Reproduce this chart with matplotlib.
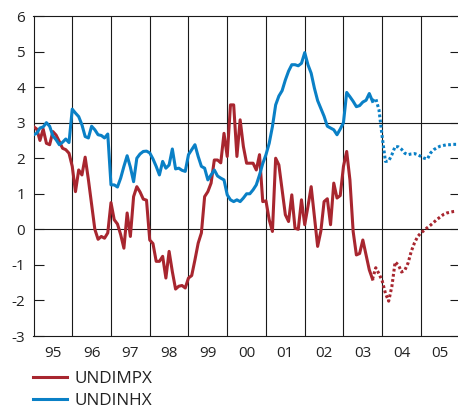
import matplotlib
matplotlib.use("Agg")
import matplotlib.pyplot as plt
from matplotlib.lines import Line2D
import numpy as np

plt.rcParams['font.family'] = ['Open Sans', 'DejaVu Sans']

# Monthly data, Jan 1995 onwards (actual)
undimpx = [2.89, 2.82, 2.5, 2.82, 2.42, 2.38, 2.75, 2.65, 2.47, 2.28, 2.24, 2.14,
           1.77, 1.06, 1.67, 1.53, 2.03, 1.4, 0.7, 0.0, -0.28, -0.2, -0.25, -0.1,
           0.75, 0.27, 0.15, -0.15, -0.53, 0.46, -0.2, 0.92, 1.2, 1.05, 0.85, 0.82,
           -0.3, -0.4, -0.9, -0.9, -0.76, -1.37, -0.62, -1.19, -1.68, -1.6, -1.58, -1.65,
           -1.37, -1.3, -0.86, -0.39, -0.1, 0.92, 1.06, 1.3, 1.95, 1.95, 1.87, 2.7,
           2.05, 3.5, 3.5, 2.05, 3.08, 2.33, 1.86, 1.86, 1.86, 1.67, 2.1, 0.78,
           0.8, 0.27, -0.06, 2.0, 1.81, 1.11, 0.41, 0.22, 0.97, 0.03, 0.0, 0.83,
           0.13, 0.64, 1.2, 0.36, -0.48, -0.05, 0.78, 0.86, 0.13, 1.3, 0.88, 0.95,
           1.77, 2.19, 1.39, -0.06, -0.72, -0.68, -0.3, -0.72, -1.14, -1.4]
undinhx = [2.66, 2.7, 2.85, 2.88, 3.0, 2.9, 2.63, 2.52, 2.38, 2.45, 2.54, 2.44,
           3.38, 3.27, 3.17, 2.94, 2.61, 2.57, 2.9, 2.8, 2.66, 2.64, 2.57, 2.68,
           1.25, 1.25, 1.19, 1.44, 1.77, 2.07, 1.75, 1.34, 2.0, 2.12, 2.19, 2.2,
           2.15, 1.98, 1.77, 1.53, 1.91, 1.72, 1.81, 2.26, 1.7, 1.72, 1.66, 1.63,
           2.1, 2.24, 2.38, 2.05, 1.77, 1.72, 1.39, 1.53, 1.67, 1.5, 1.44, 1.39,
           0.97, 0.83, 0.78, 0.83, 0.78, 0.88, 1.0, 1.0, 1.11, 1.25, 1.53, 1.85,
           2.1, 2.42, 2.89, 3.5, 3.75, 3.9, 4.2, 4.45, 4.63, 4.63, 4.6, 4.67,
           4.97, 4.63, 4.39, 3.97, 3.62, 3.4, 3.18, 2.9, 2.85, 2.8, 2.66, 2.82,
           3.0, 3.85, 3.73, 3.6, 3.45, 3.48, 3.58, 3.63, 3.82, 3.6]
# Projections, monthly from Oct 2003 (month index 105) to Dec 2005
undimpx_proj = [-1.4, -1.08, -1.25, -1.45, -1.8, -2.02, -1.6, -0.92, -1.0, -1.2, -1.15,
                -0.95, -0.62, -0.38, -0.2, -0.1, -0.03, 0.05, 0.12, 0.2, 0.28, 0.35,
                0.42, 0.46, 0.48, 0.5, 0.51]
undinhx_proj = [3.6, 3.68, 3.36, 2.6, 1.91, 1.92, 2.1, 2.33, 2.32, 2.25, 2.14,
                2.1, 2.12, 2.13, 2.1, 2.05, 2.0, 1.98, 2.15, 2.24, 2.3, 2.34,
                2.36, 2.38, 2.38, 2.39, 2.39]
year_labels = ['95', '96', '97', '98', '99', '00', '01', '02', '03', '04', '05']
series_names = ['UNDIMPX', 'UNDINHX']

RED = '#a8262f'
BLUE = '#0a80c6'

t_act = 1995 + np.arange(len(undimpx)) / 12
t_proj = 1995 + (105 + np.arange(len(undimpx_proj))) / 12

W, H = 458, 408
fig = plt.figure(figsize=(W / 100, H / 100), dpi=100)
x0, x1 = 33.5, 459.7
y0, y1 = 336, 16
ax = fig.add_axes([x0 / W, (H - y0) / H, (x1 - x0) / W, (y0 - y1) / H])

ax.set_xlim(1995, 2006)
ax.set_ylim(-3, 6)

for yr in range(1996, 2006):
    ax.axvline(yr, color='#1a1a1a', lw=0.8, zorder=1)
for yv in (0, 3):
    ax.axhline(yv, color='#1a1a1a', lw=0.8, zorder=1)

lw = 2.2
ax.plot(t_act, undimpx, color=RED, lw=lw, solid_joinstyle='round', zorder=3)
ax.plot(t_act, undinhx, color=BLUE, lw=lw, solid_joinstyle='round', zorder=3)
ax.plot(t_proj, undimpx_proj, color=RED, lw=lw, linestyle=(0, (0.9, 0.8)), zorder=3)
ax.plot(t_proj, undinhx_proj, color=BLUE, lw=lw, linestyle=(0, (0.9, 0.8)), zorder=3)

ax.set_yticks(range(-3, 7))
ax.set_yticklabels([str(v) for v in range(-3, 7)])
ax.tick_params(axis='y', direction='in', length=7, width=0.8, left=True, right=True,
               labelsize=11, pad=6, colors='#1a1a1a', labelcolor='#222222')
ax.set_xticks(np.arange(1995.5, 2006, 1.0))
ax.set_xticklabels(year_labels)
ax.tick_params(axis='x', length=0, labelsize=11, pad=7, labelcolor='#222222')

for s in ax.spines.values():
    s.set_color('#1a1a1a')
    s.set_linewidth(0.8)

# Legend below the axes
for i, (name, col) in enumerate(zip(series_names, [RED, BLUE])):
    yl = 377.0 + 21.5 * i
    fig.add_artist(Line2D([32.5 / W, 66.5 / W], [1 - yl / H, 1 - yl / H], color=col, lw=lw,
                          transform=fig.transFigure))
    fig.text(75 / W, 1 - (yl + 6.2) / H, name, fontsize=12.3, color='#222222',
             ha='left', va='baseline')

fig.savefig('out.png', dpi=100)
